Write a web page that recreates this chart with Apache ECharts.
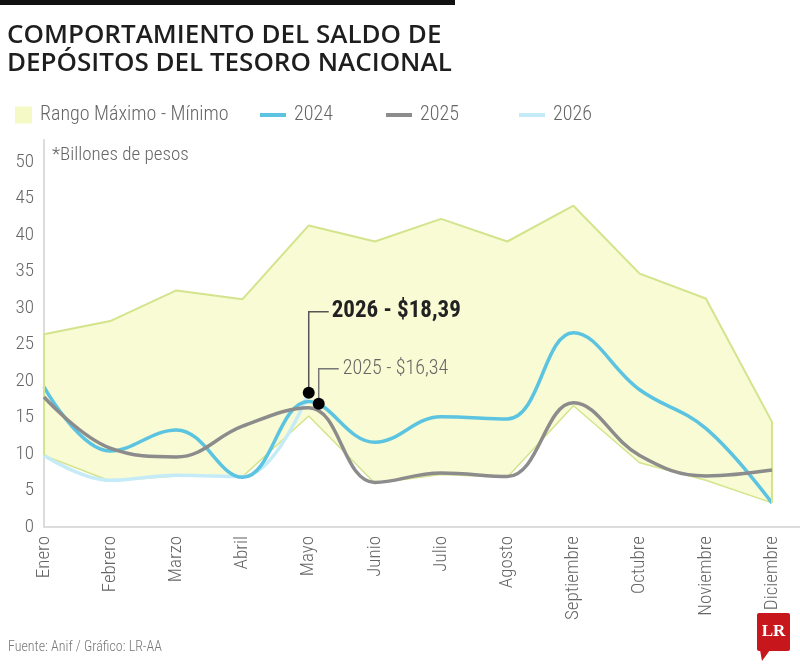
<!DOCTYPE html>
<html>
<head>
<meta charset="utf-8">
<script src="https://cdn.jsdelivr.net/npm/echarts@6/dist/echarts.min.js"></script>
<style>
  html, body { margin: 0; padding: 0; background: #fff; }
  #main { width: 800px; height: 666px; }
</style>
</head>
<body>
<div id="main"></div>
<script>
// datos (billones de pesos)
var meses = ['Enero', 'Febrero', 'Marzo', 'Abril', 'Mayo', 'Junio', 'Julio', 'Agosto', 'Septiembre', 'Octubre', 'Noviembre', 'Diciembre'];
var rangoMax = [26.4, 28.2, 32.4, 31.2, 41.3, 39.1, 42.2, 39.1, 44.0, 34.7, 31.3, 14.4];
var rangoMin = [9.8, 6.3, 7.0, 6.9, 15.2, 6.0, 7.2, 6.8, 16.6, 8.8, 6.4, 3.3];
var serie2024 = [19.2, 10.4, 13.3, 6.8, 17.2, 11.6, 15.1, 14.8, 26.6, 18.8, 13.5, 3.3];
var serie2025 = [17.8, 10.8, 9.6, 13.8, 16.34, 6.1, 7.4, 6.9, 17.0, 9.8, 7.0, 7.8];
var serie2026 = [9.8, 6.4, 7.1, 6.9, 18.39, null, null, null, null, null, null, null];
var yTicks = [0, 5, 10, 15, 20, 25, 30, 35, 40, 45, 50];

var fontC = '"Roboto Condensed", "DejaVu Sans Condensed", sans-serif';

function legendItem(name, left, w, h) {
    return {
        left: left, top: 100,
        itemWidth: w, itemHeight: h,
        icon: 'rect',
        textStyle: { fontFamily: fontC, fontWeight: 300, fontSize: 20, color: '#666', padding: [0, 0, 0, 3] },
        data: [name]
    };
}

function buildChart() {
    var myChart = echarts.init(document.getElementById('main'));

    var rangoDif = rangoMax.map(function (v, i) { return +(v - rangoMin[i]).toFixed(2); });
    var last = meses.length - 1;

    var option = {
        backgroundColor: '#fff',
        animation: false,
        title: {
            text: 'COMPORTAMIENTO DEL SALDO DE\nDEPÓSITOS DEL TESORO NACIONAL',
            left: 2,
            top: 17,
            textStyle: {
                fontFamily: '"Open Sans", sans-serif',
                fontWeight: 600,
                fontSize: 26,
                lineHeight: 28,
                color: '#1e1e1e'
            }
        },
        legend: [
            legendItem('Rango Máximo - Mínimo', 10, 17, 17),
            legendItem('2024', 255, 26, 4),
            legendItem('2025', 381, 26, 4),
            legendItem('2026', 514, 26, 4)
        ],
        grid: { left: 44, right: 28, top: 140, bottom: 139, containLabel: false },
        xAxis: {
            type: 'category',
            boundaryGap: false,
            data: meses,
            axisLine: { lineStyle: { color: '#dcdcdc', width: 2 } },
            axisTick: { show: false },
            axisLabel: {
                rotate: 90,
                margin: 9,
                fontFamily: fontC,
                fontWeight: 300,
                fontSize: 19,
                color: '#666'
            }
        },
        yAxis: {
            type: 'value',
            min: 0,
            max: 53,
            interval: 5,
            splitLine: { show: false },
            axisTick: { show: false },
            axisLine: { show: true, lineStyle: { color: '#dcdcdc', width: 2 } },
            axisLabel: {
                margin: 10,
                fontFamily: fontC,
                fontWeight: 300,
                fontSize: 19,
                color: '#666',
                formatter: function (v) { return yTicks.indexOf(v) >= 0 ? String(v) : ''; }
            }
        },
        series: [
            {
                name: 'Mín',
                type: 'line',
                stack: 'rango',
                symbol: 'none',
                data: rangoMin,
                lineStyle: { color: '#d3e48c', width: 1.5 },
                z: 1
            },
            {
                name: 'Rango Máximo - Mínimo',
                type: 'line',
                stack: 'rango',
                symbol: 'none',
                data: rangoDif,
                itemStyle: { color: '#f4f9c6' },
                lineStyle: { color: '#d3e48c', width: 2 },
                areaStyle: { color: '#f8fbd3', opacity: 1 },
                markLine: {
                    symbol: 'none',
                    silent: true,
                    label: { show: false },
                    lineStyle: { color: '#d3e48c', width: 2, type: 'solid' },
                    data: [
                        [{ coord: [0, rangoMin[0]] }, { coord: [0, rangoMax[0]] }],
                        [{ coord: [last, rangoMin[last]] }, { coord: [last, rangoMax[last]] }]
                    ]
                },
                z: 1
            },
            {
                name: '2026',
                type: 'line',
                smooth: 0.4,
                symbol: 'none',
                data: serie2026,
                itemStyle: { color: '#c6ebf8' },
                lineStyle: { color: '#c6ebf8', width: 3.5 },
                z: 3
            },
            {
                name: '2024',
                type: 'line',
                smooth: 0.4,
                symbol: 'none',
                data: serie2024,
                itemStyle: { color: '#5cc4e0' },
                lineStyle: { color: '#5cc4e0', width: 3.5 },
                z: 4
            },
            {
                name: '2025',
                type: 'line',
                smooth: 0.4,
                symbol: 'none',
                data: serie2025,
                itemStyle: { color: '#8c8c8c' },
                lineStyle: { color: '#8c8c8c', width: 3.5 },
                z: 5
            }
        ]
    };

    myChart.setOption(option);

    // anotaciones de mayo
    var p26 = myChart.convertToPixel({ gridIndex: 0 }, [4, serie2026[4]]);
    var p25 = myChart.convertToPixel({ gridIndex: 0 }, [4, serie2025[4]]);
    p25 = [p25[0] + 10, p25[1] - 4];

    myChart.setOption({
        graphic: [
            // barra negra superior
            { type: 'rect', shape: { x: 0, y: 0, width: 455, height: 5 }, style: { fill: '#111' } },
            // prolongación del eje x
            { type: 'line', shape: { x1: 772, y1: 527, x2: 800, y2: 527 }, style: { stroke: '#dcdcdc', lineWidth: 2 } },
            // *Billones de pesos
            { type: 'text', x: 52, y: 146, style: { text: '*Billones de pesos', font: '300 19px ' + fontC, fill: '#666' } },
            // 2026
            { type: 'polyline', z: 20, shape: { points: [[p26[0], p26[1]], [p26[0], p26[1] - 81], [p26[0] + 20, p26[1] - 81]] }, style: { stroke: '#555', lineWidth: 1.5, fill: null } },
            { type: 'circle', z: 21, shape: { cx: p26[0], cy: p26[1], r: 6 }, style: { fill: '#000' } },
            { type: 'text', z: 21, x: p26[0] + 23, y: p26[1] - 81, style: { text: '2026 - $18,39', font: 'bold 23px ' + fontC, fill: '#222', verticalAlign: 'middle' } },
            // 2025
            { type: 'polyline', z: 20, shape: { points: [[p25[0], p25[1]], [p25[0], p25[1] - 35], [p25[0] + 20, p25[1] - 35]] }, style: { stroke: '#777', lineWidth: 1.5, fill: null } },
            { type: 'circle', z: 21, shape: { cx: p25[0], cy: p25[1], r: 6 }, style: { fill: '#000' } },
            { type: 'text', z: 21, x: p25[0] + 24, y: p25[1] - 35, style: { text: '2025 - $16,34', font: '300 20px ' + fontC, fill: '#666', verticalAlign: 'middle' } },
            // fuente
            { type: 'text', x: 8, y: 640, style: { text: 'Fuente: Anif / Gráfico: LR-AA', font: '300 14px ' + fontC, fill: '#777' } },
            // logo LR
            { type: 'rect', shape: { x: 757, y: 613, width: 33, height: 38, r: 2 }, style: { fill: '#c8161d' } },
            { type: 'polygon', shape: { points: [[760, 650], [770, 650], [762, 661]] }, style: { fill: '#c8161d' } },
            { type: 'text', x: 773.5, y: 632, style: { text: 'LR', font: 'bold 17px "Liberation Serif", serif', fill: '#fff', align: 'center', verticalAlign: 'middle' } }
        ]
    });
}

buildChart();
</script>
</body>
</html>
